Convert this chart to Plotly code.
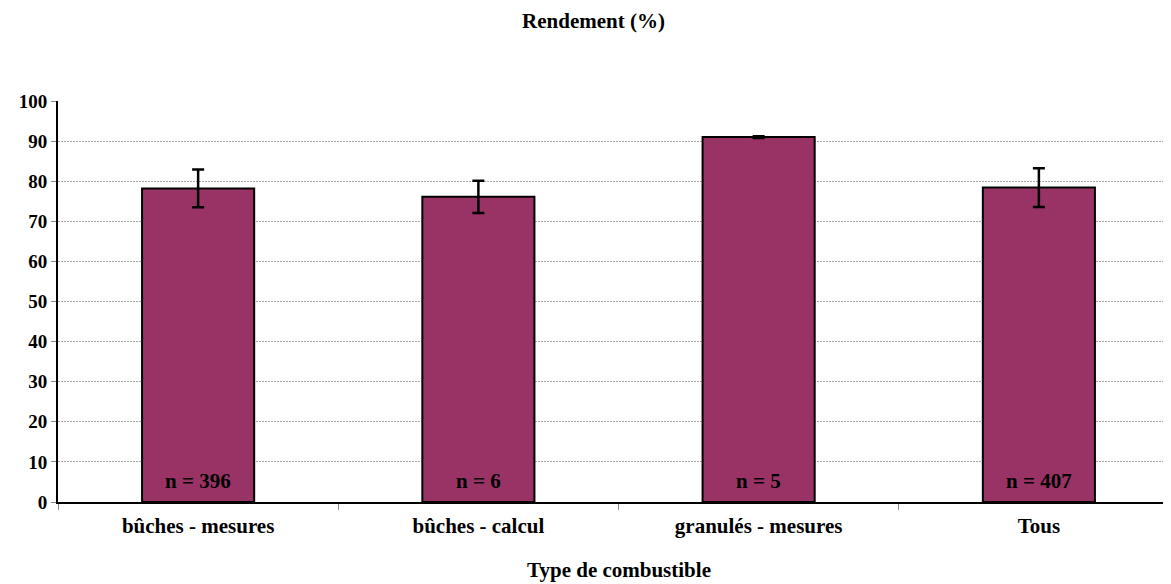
import plotly.graph_objects as go

categories = ['bûches - mesures', 'bûches - calcul', 'granulés - mesures', 'Tous']
rendement = [78.2, 76.1, 91.0, 78.4]
ecart = [4.7, 4.0, 0.2, 4.85]
effectifs = [396, 6, 5, 407]
y_ticks = [0, 10, 20, 30, 40, 50, 60, 70, 80, 90, 100]

FONT = 'Liberation Serif'
label_y = 5.3

fig = go.Figure()
fig.add_trace(go.Bar(x=categories, y=rendement,
                     width=0.4,
                     marker=dict(color='#993366', line=dict(color='black', width=2)),
                     error_y=dict(type='data', array=ecart, visible=True,
                                  color='black', thickness=2.5, width=6),
                     hoverinfo='x+y'))

for cat, n in zip(categories, effectifs):
    fig.add_annotation(x=cat, y=label_y, text=f'<b>n = {n}</b>', showarrow=False,
                       font=dict(family=FONT, size=21, color='black'))

# titre de l'axe x place a la main
fig.add_annotation(xref='paper', yref='paper', x=0.5, y=-0.17,
                   xanchor='center', yanchor='middle', showarrow=False,
                   text='<b>Type de combustible</b>',
                   font=dict(family=FONT, size=21, color='black'))

fig.update_xaxes(type='category', range=[-0.5, 3.5],
                 tickvals=categories, ticktext=[f'<b>{c}</b>' for c in categories],
                 showline=True, linecolor='black', linewidth=2,
                 ticks='outside', tickson='boundaries', ticklen=6, tickcolor='#888',
                 ticklabelstandoff=4,
                 tickfont=dict(family=FONT, size=21, color='black'))
fig.update_yaxes(range=[0, 100], tickvals=y_ticks,
                 ticktext=[f'<b>{v}</b>' for v in y_ticks],
                 showline=True, linecolor='black', linewidth=2,
                 ticks='outside', ticklen=5, tickcolor='#888',
                 showgrid=True, gridcolor='#a8a8a8', griddash='2px,1px', gridwidth=1,
                 zeroline=False,
                 tickfont=dict(family=FONT, size=19, color='black'))
fig.update_layout(width=1171, height=584,
                  margin=dict(l=50, r=0, t=93, b=90),
                  plot_bgcolor='white', paper_bgcolor='white',
                  showlegend=False, bargap=0.6,
                  title=dict(text='<b>Rendement (%)</b>', x=0.5, xanchor='center',
                             y=0.978, yanchor='middle',
                             font=dict(family=FONT, size=21, color='black')))

fig.write_html('out.html')
